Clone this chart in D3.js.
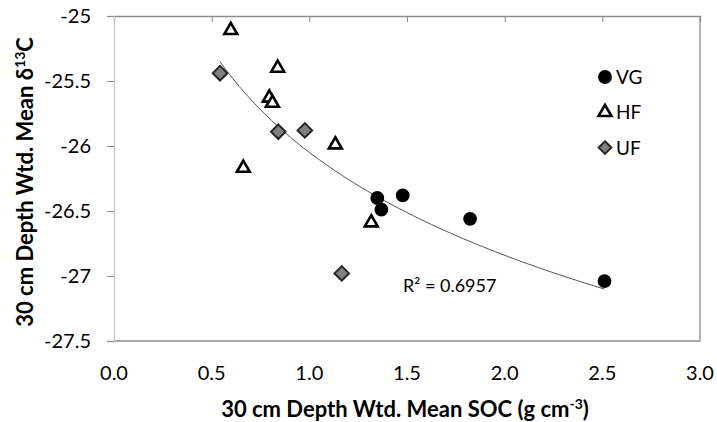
<!DOCTYPE html>
<html>
<head>
<meta charset="utf-8">
<script src="https://cdn.jsdelivr.net/npm/d3@7"></script>
<style>
body { margin: 0; background: #fff; }
svg text { font-family: Lato, "Open Sans", sans-serif; fill: #000; }
</style>
</head>
<body>
<svg id="chart" width="717" height="422"></svg>
<script>
// values
var vgX = [1.348, 1.369, 1.478, 1.823, 2.511]
var vgY = [-26.40, -26.49, -26.38, -26.56, -27.04]
var hfX = [0.598, 0.838, 0.795, 0.811, 1.133, 0.662, 1.317]
var hfY = [-25.11, -25.40, -25.63, -25.67, -25.99, -26.17, -26.59]
var ufX = [0.543, 0.841, 0.977, 1.166]
var ufY = [-25.44, -25.89, -25.88, -26.98]
var xTicks = [0, 0.5, 1, 1.5, 2, 2.5, 3]
var yTicks = [-25, -25.5, -26, -26.5, -27, -27.5]
var legendNames = ["VG", "HF", "UF"]
var r2Label = "R\u00b2 = 0.6957"

var svg = d3.select("#chart")
var x = d3.scaleLinear().domain([0, 3]).range([114, 700])
var y = d3.scaleLinear().domain([-25, -27.5]).range([16, 341])
var axisGrey = "#8c8c8c"

function zip(xs, ys) {
    return xs.map(function(v, i) { return {x: v, y: ys[i]} })
}
var vg = zip(vgX, vgY), hf = zip(hfX, hfY), uf = zip(ufX, ufY)

// plot frame: bottom and right border
svg.append("path")
    .attr("d", "M" + x(0) + "," + y(-27.5) + "H" + x(3) + "V" + y(-25))
    .attr("fill", "none").attr("stroke", axisGrey).attr("stroke-width", 1.3)

// x axis sits on the top edge, labels at the bottom
var xAxis = svg.append("g").attr("transform", "translate(0," + y(-25) + ")")
    .call(d3.axisBottom(x).tickValues(xTicks).tickSize(6).tickFormat(""))
xAxis.select(".domain").attr("stroke", axisGrey).attr("stroke-width", 1.3)
xAxis.selectAll("line").attr("stroke", axisGrey)

svg.append("g").selectAll("text")
    .data(xTicks).enter().append("text")
    .attr("x", function(d) { return x(d) })
    .attr("y", 380)
    .attr("text-anchor", "middle")
    .style("font-size", "20px")
    .text(function(d) { return d3.format(".1f")(d) })

var yAxis = svg.append("g").attr("transform", "translate(" + x(0) + ",0)")
    .call(d3.axisLeft(y).tickValues(yTicks).tickSize(7).tickFormat(""))
yAxis.select(".domain").attr("stroke", "#c8c8c8").attr("stroke-width", 1.3)
yAxis.selectAll("line").attr("stroke", axisGrey)

svg.append("g").selectAll("text")
    .data(yTicks).enter().append("text")
    .attr("x", 91)
    .attr("y", function(d) { return y(d) + 7 })
    .attr("text-anchor", "end")
    .style("font-size", "20px")
    .text(function(d) { return String(d) })

// logarithmic least-squares trendline over all points
var all = vg.concat(hf, uf)
function logFit(pts) {
    var n = pts.length
    var mx = d3.mean(pts, function(p) { return Math.log(p.x) })
    var my = d3.mean(pts, function(p) { return p.y })
    var sxy = d3.sum(pts, function(p) { return (Math.log(p.x) - mx) * (p.y - my) })
    var sxx = d3.sum(pts, function(p) { return (Math.log(p.x) - mx) * (Math.log(p.x) - mx) })
    var a = sxy / sxx
    return {a: a, b: my - a * mx}
}
var fit = logFit(all)
var xr = d3.extent(all, function(d) { return d.x })
var trend = d3.range(0, 61).map(function(i) {
    var xv = xr[0] + (xr[1] - xr[0]) * i / 60
    return {x: xv, y: fit.a * Math.log(xv) + fit.b}
})
svg.append("path")
    .datum(trend)
    .attr("d", d3.line().x(function(d) { return x(d.x) }).y(function(d) { return y(d.y) }))
    .attr("fill", "none").attr("stroke", "#555").attr("stroke-width", 1)

var circleSym = d3.symbol().type(d3.symbolCircle).size(150)
var triSym = d3.symbol().type(d3.symbolTriangle).size(72)
function diamond(h) {
    return "M0," + (-h) + "L" + h + ",0L0," + h + "L" + (-h) + ",0Z"
}

function drawSeries(data, d, fill, stroke, sw) {
    svg.append("g").selectAll("path")
        .data(data).enter().append("path")
        .attr("transform", function(p) { return "translate(" + x(p.x) + "," + y(p.y) + ")" })
        .attr("d", d)
        .attr("fill", fill).attr("stroke", stroke).attr("stroke-width", sw)
        .attr("stroke-linejoin", "miter")
}
drawSeries(hf, triSym(), "#fff", "#000", 2.6)
drawSeries(uf, diamond(7.3), "#7f7f7f", "#262626", 2)
drawSeries(vg, circleSym(), "#000", "none", 0)

// legend
var legSyms = [[circleSym(), "#000", "none", 0], [triSym(), "#fff", "#000", 2.6], [diamond(6.3), "#7f7f7f", "#262626", 2]]
var leg = svg.append("g").selectAll("g")
    .data(legendNames).enter().append("g")
    .attr("transform", function(d, i) { return "translate(605," + (77 + i * 35.3) + ")" })
leg.append("path")
    .attr("d", function(d, i) { return legSyms[i][0] })
    .attr("fill", function(d, i) { return legSyms[i][1] })
    .attr("stroke", function(d, i) { return legSyms[i][2] })
    .attr("stroke-width", function(d, i) { return legSyms[i][3] })
leg.append("text")
    .attr("x", 11).attr("y", 7)
    .style("font-size", "19px")
    .text(function(d) { return d })

svg.append("text")
    .attr("x", 403).attr("y", 292)
    .style("font-size", "18px")
    .text(r2Label)

// axis titles
var xt = svg.append("text")
    .attr("x", 405).attr("y", 417)
    .attr("text-anchor", "middle")
    .style("font-size", "22px").style("font-weight", "bold")
xt.append("tspan").text("30 cm Depth Wtd. Mean SOC (g cm")
xt.append("tspan").attr("dy", -8).style("font-size", "14px").text("-3")
xt.append("tspan").attr("dy", 8).text(")")

var yt = svg.append("text")
    .attr("transform", "translate(33,182) rotate(-90)")
    .attr("text-anchor", "middle")
    .style("font-size", "22px").style("font-weight", "bold")
yt.append("tspan").text("30 cm Depth Wtd. Mean \u03b4")
yt.append("tspan").attr("dy", -8).style("font-size", "14px").text("13")
yt.append("tspan").attr("dy", 8).text("C")
</script>
</body>
</html>
